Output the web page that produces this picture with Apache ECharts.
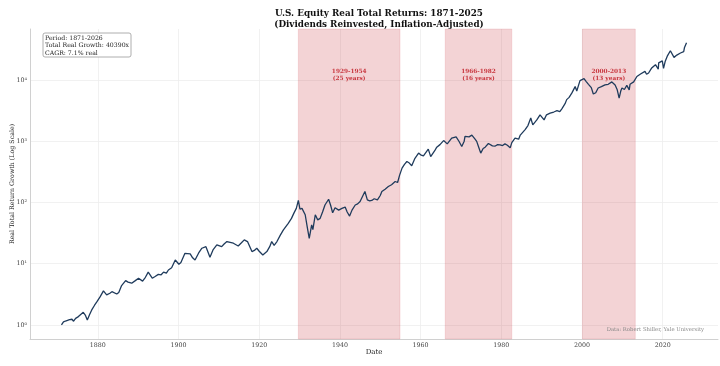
<!DOCTYPE html>
<html><head><meta charset="utf-8">
<script src="https://cdn.jsdelivr.net/npm/echarts@6/dist/echarts.min.js"></script>
<style>html,body{margin:0;padding:0;background:#fff}#c{width:720px;height:366px}</style>
</head><body><div id="c"></div>
<script>
const years = [1871.0,1871.5,1872.0,1873.0,1873.6,1874.0,1874.5,1875.2,1876.4,1876.9,1877.4,1878.0,1878.5,1879.2,1879.8,1880.6,1881.4,1882.2,1883.0,1883.5,1884.7,1885.2,1885.9,1886.9,1887.5,1888.4,1889.3,1890.1,1891.1,1891.8,1892.5,1893.5,1894.2,1895.0,1895.7,1896.3,1897.0,1897.5,1898.3,1899.2,1900.1,1900.6,1901.6,1902.9,1903.5,1904.1,1905.0,1905.8,1906.8,1907.8,1908.6,1909.5,1910.7,1911.3,1912.0,1913.6,1914.8,1915.6,1916.3,1917.1,1918.2,1918.8,1919.4,1920.0,1920.9,1921.9,1922.6,1923.1,1923.7,1924.4,1925.2,1926.0,1927.2,1928.0,1928.6,1929.2,1929.7,1930.1,1930.6,1931.4,1931.9,1932.4,1933.0,1933.3,1933.9,1934.5,1935.1,1935.7,1936.3,1937.2,1937.7,1938.2,1938.8,1939.2,1939.7,1940.5,1941.3,1941.8,1942.4,1943.0,1943.8,1944.4,1945.0,1945.6,1946.2,1946.8,1947.4,1947.9,1948.5,1949.3,1950.0,1950.4,1951.2,1952.0,1952.8,1953.7,1954.3,1954.8,1955.4,1956.0,1956.6,1957.2,1957.8,1958.6,1959.5,1960.0,1960.7,1961.9,1962.5,1962.8,1963.5,1964.0,1964.8,1965.7,1966.6,1967.7,1968.8,1969.5,1970.2,1970.8,1971.0,1972.0,1972.7,1973.4,1973.9,1974.4,1974.9,1975.5,1976.0,1976.8,1977.2,1977.8,1978.5,1979.1,1979.7,1980.3,1980.9,1981.5,1982.2,1982.6,1983.4,1984.3,1984.7,1985.9,1986.6,1987.3,1987.8,1988.8,1989.6,1990.6,1991.2,1992.1,1993.0,1993.8,1994.5,1995.0,1995.8,1996.2,1996.8,1997.5,1998.3,1998.7,1999.5,2000.5,2001.0,2001.6,2002.3,2002.8,2003.4,2004.0,2004.8,2005.7,2006.5,2007.4,2007.8,2008.2,2008.7,2009.2,2009.6,2009.9,2010.5,2011.1,2011.7,2011.9,2012.8,2013.6,2014.5,2015.6,2016.0,2016.5,2017.2,2018.2,2018.9,2019.0,2019.9,2020.2,2020.6,2021.2,2021.9,2022.8,2023.5,2024.4,2025.2,2025.4,2025.9];
const growth = [1.0,1.12,1.16,1.22,1.24,1.15,1.28,1.37,1.61,1.45,1.21,1.5,1.76,2.1,2.4,2.9,3.6,3.1,3.3,3.5,3.2,3.4,4.4,5.3,5.0,4.8,5.3,5.8,5.2,6.0,7.3,5.8,6.2,6.7,6.6,7.3,7.0,7.9,8.6,11.5,9.8,10.5,14.8,14.5,12.5,11.5,15,17.9,19,12.8,17,20.3,19,21,23,21.6,19.5,22,24.5,23,15.8,16.5,17.9,16,13.9,15.8,19,23,20,23,29,35.6,45.7,55,67,80,108,78,80,63,40,26,43,36,63,52,55,70,91,113,90,68,82,88,75,80,84,70,60,75,91,95,104,125,151,110,106,108,115,110,130,151,165,182,195,220,212,280,364,420,466,440,398,527,640,600,577,742,560,600,700,800,880,1025,906,1120,1180,1000,820,1000,1200,1180,1260,1100,995,800,640,760,800,920,930,840,835,880,870,850,905,860,780,950,1120,1080,1260,1550,1800,2400,1850,2230,2690,2230,2700,2880,3000,3150,3050,3380,4100,4780,5200,6150,7800,6600,9750,10500,9500,8500,7500,5900,6200,7400,7800,8300,8500,9300,9600,8300,7000,5050,6600,7400,7000,8150,6900,8500,9300,11400,12500,13800,12400,13000,15500,17800,15000,19000,20500,15500,20000,25000,30000,23400,25500,27600,29000,34000,40390];
const xTicks = [1880,1900,1920,1940,1960,1980,2000,2020];
const yTicks = [1,10,100,1000,10000];
const periods = [[1929.7,1954.9,'1929-1954','(25 years)'],[1966.1,1982.6,'1966-1982','(16 years)'],[2000.1,2013.2,'2000-2013','(13 years)']];
const infoLines = ['Period: 1871-2026','Total Real Growth: 40390x','CAGR: 7.1% real'];

const sup = {'0':'\u2070','1':'\u00b9','2':'\u00b2','3':'\u00b3','4':'\u2074'};
const F = 'DejaVu Serif';
const chart = echarts.init(document.getElementById('c'), null, {renderer:'canvas'});
chart.setOption({
  animation:false,
  backgroundColor:'#fff',
  title:{text:'U.S. Equity Real Total Returns: 1871-2025\n(Dividends Reinvested, Inflation-Adjusted)',left:374,textAlign:'center',top:3,
    textStyle:{fontFamily:F,fontSize:8.8,fontWeight:'bold',color:'#111',lineHeight:11}},
  grid:{left:30,right:2,top:29,bottom:27,containLabel:false,outerBoundsMode:'none'},
  xAxis:{type:'value',min:1863.2,max:2033.7,name:'Date',nameLocation:'middle',nameGap:10,nameMoveOverlap:false,
    nameTextStyle:{fontFamily:F,fontSize:7,color:'#222'},
    axisLine:{show:true,lineStyle:{color:'#d0d0d0',width:1}},axisTick:{show:false,customValues:xTicks},
    axisLabel:{customValues:xTicks,fontFamily:F,fontSize:6.3,color:'#444',margin:3,formatter:v=>String(v)},
    splitLine:{show:true,lineStyle:{color:'#eeeeee',width:0.8}}},
  yAxis:{type:'log',logBase:10,min:0.59,max:68000,name:'Real Total Return Growth (Log Scale)',nameLocation:'middle',nameGap:15,nameMoveOverlap:false,
    nameTextStyle:{fontFamily:F,fontSize:6.3,color:'#222'},
    axisLine:{show:true,lineStyle:{color:'#d0d0d0',width:1}},axisTick:{show:false,customValues:yTicks},
    axisLabel:{customValues:yTicks,fontFamily:F,fontSize:6.3,color:'#444',margin:3,
      formatter:v=>{const e=Math.round(Math.log10(v));return '10'+String(e).split('').map(c=>sup[c]).join('');}},
    splitLine:{show:true,lineStyle:{color:'#eeeeee',width:0.8}}},
  series:[{type:'line',data:years.map((y,i)=>[y,growth[i]]),showSymbol:false,symbol:'none',
    lineStyle:{color:'#1f3b5c',width:1.3},z:5,
    markArea:{silent:true,itemStyle:{color:'rgba(205,70,80,0.24)',borderColor:'rgba(205,70,80,0.3)',borderWidth:0.5},
      label:{show:true,position:'insideTop',distance:39,fontFamily:F,fontSize:5.8,fontWeight:'bold',color:'#c8373f',lineHeight:7},
      data:periods.map(p=>[{xAxis:p[0],name:p[2]+'\n'+p[3]},{xAxis:p[1]}])}
  }],
  graphic:[
    {type:'rect',shape:{x:43,y:33,width:88,height:24,r:2},style:{fill:'#fff',stroke:'#999',lineWidth:0.8},z:10},
    {type:'text',x:45,y:35,style:{text:infoLines.join('\n'),font:'6.2px "DejaVu Serif"',fill:'#222',lineHeight:7.2},z:11},
    {type:'text',x:704,y:327.5,style:{text:'Data: Robert Shiller, Yale University',font:'5.3px "DejaVu Serif"',fill:'#888',align:'right'},z:11}
  ]
});
</script></body></html>
